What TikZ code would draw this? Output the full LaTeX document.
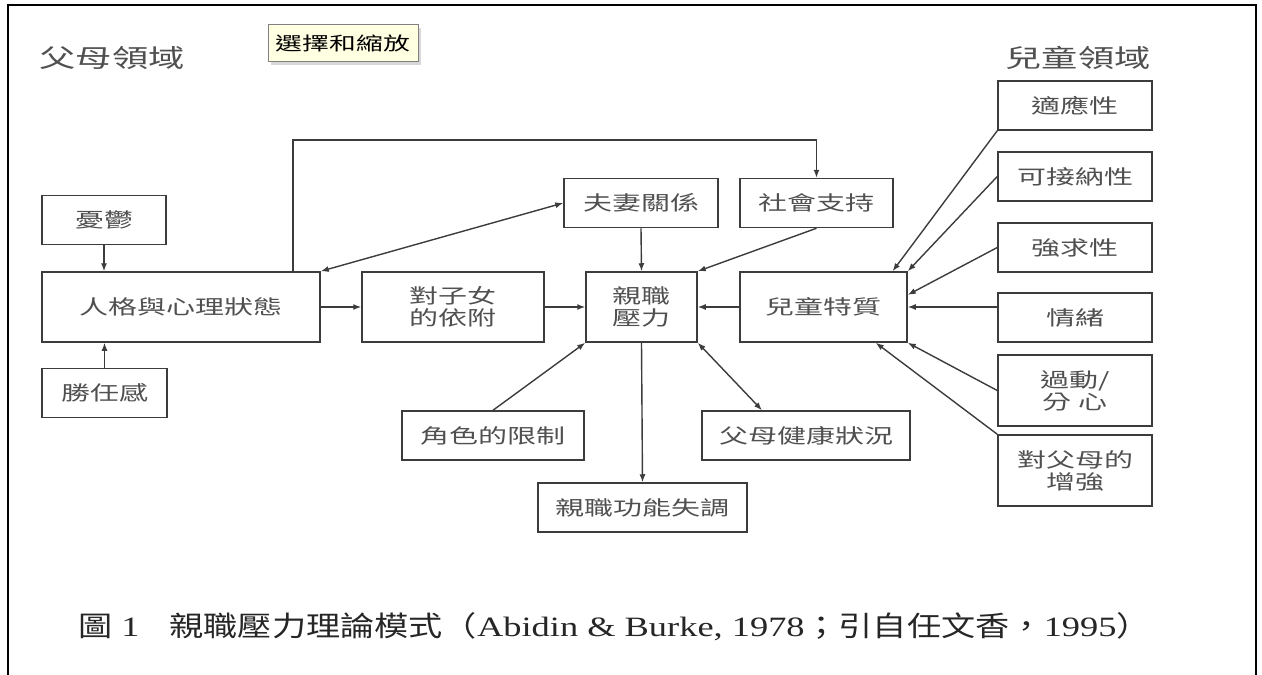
\documentclass[tikz,border=0pt]{standalone}
\usepackage{fontspec}
\setmainfont{Liberation Serif}[FakeStretch=1.3]
\newfontfamily\cjk{Noto Sans CJK TC}[FakeStretch=1.45]
\newfontfamily\capcjk{Noto Sans CJK TC}[FakeStretch=1.22]
\usetikzlibrary{arrows.meta,calc,shadows}
\definecolor{boxline}{HTML}{3C3C3C}
\definecolor{labeltext}{HTML}{505050}
\definecolor{tipfill}{HTML}{FFFFE1}

\begin{document}
\begin{tikzpicture}[x=1pt,y=-1pt]
\useasboundingbox (0,0) rectangle (1262,675);
\draw[line width=2pt] (8,675) -- (8,5) -- (1256,5) -- (1256,675);

\node[draw=gray,fill=tipfill,inner sep=0pt,minimum width=150pt,minimum height=37pt,
      drop shadow={shadow xshift=3pt,shadow yshift=-3pt,fill=gray!60},
      font=\cjk\fontsize{18.5}{20}\selectfont] (zoomtip) at (343,43) {選擇和縮放};
\node[text=labeltext,font=\cjk\fontsize{25}{28}\selectfont] (parenthead) at (112,58) {父母領域};
\node[text=labeltext,font=\cjk\fontsize{25}{28}\selectfont] (childhead) at (1078,58) {兒童領域};

\begin{scope}[every node/.style={draw=boxline,line width=1.5pt,inner sep=0pt,align=center,
              text=labeltext,font=\cjk\fontsize{20}{22}\selectfont,minimum height=49pt}]
    \node[minimum width=124pt] (depress) at (104,220) {憂鬱};
    \node[minimum width=278pt,minimum height=70pt] (persona) at (181,307) {人格與心理狀態};
    \node[minimum width=125pt] (compet) at (104.5,393) {勝任感};
    \node[minimum width=182pt,minimum height=70pt] (attach) at (453,307) {對子女\\的依附};
    \node[minimum width=111pt,minimum height=70pt] (stress) at (641.5,307) {親職\\壓力};
    \node[minimum width=154pt] (marriage) at (641,203) {夫妻關係};
    \node[minimum width=153pt] (social) at (816.5,203) {社會支持};
    \node[minimum width=167pt,minimum height=70pt] (childtrait) at (823.5,307) {兒童特質};
    \node[minimum width=182pt] (role) at (493,435.5) {角色的限制};
    \node[minimum width=208pt] (health) at (806,435.5) {父母健康狀況};
    \node[minimum width=209pt] (dysfunc) at (642.5,507.5) {親職功能失調};

    \node[minimum width=154pt] (adapt) at (1075,105.5) {適應性};
    \node[minimum width=154pt] (accept) at (1075,176.5) {可接納性};
    \node[minimum width=154pt] (demand) at (1075,247.5) {強求性};
    \node[minimum width=154pt] (mood) at (1075,317.5) {情緒};
    \node[minimum width=154pt,minimum height=71pt] (hyper) at (1075,390.5) {過動/\\分\ 心};
    \node[minimum width=154pt,minimum height=71pt] (reinforce) at (1075,470.5) {對父母的\\增強};
\end{scope}

\coordinate (loopturn) at (293,140);

\begin{scope}[>={Latex[length=8pt,width=6pt]},
              every edge/.style={draw=boxline,line width=1.4pt}]
    \path [->] (depress.south) edge (depress.south |- persona.north);
    \path [->] (compet.north) edge (compet.north |- persona.south);
    \path [->] (persona.east) edge (attach.west);
    \path [->] (attach.east) edge (stress.west);
    \path [->] (childtrait.west) edge (stress.east);
    \path [->] (marriage.south) edge (stress.north);
    \path [->] (social.south) edge (stress.north east);
    \path [<->] (marriage.west) edge (persona.north east);
    \path [->] (role.north) edge (stress.south west);
    \path [->] (stress.south) edge (dysfunc.north);
    \path [<->] (stress.south east) edge ($(health.north west)!0.29!(health.north east)$);

    \path [->] (adapt.south west) edge ($(childtrait.north west)!0.91!(childtrait.north east)$);
    \path [->] (accept.west) edge (childtrait.north east);
    \path [->] (demand.west) edge ($(childtrait.north east)!0.33!(childtrait.south east)$);
    \path [->] (mood.west |- childtrait.east) edge (childtrait.east);
    \path [->] (hyper.west) edge (childtrait.south east);
    \path [->] (reinforce.north west) edge ($(childtrait.south west)!0.81!(childtrait.south east)$);

    \draw [->,draw=boxline,line width=1.4pt] (persona.north -| loopturn) -- (loopturn) -| (social.north);
\end{scope}

\node[anchor=west,inner sep=0pt,text=black!85,font=\fontsize{28}{30}\selectfont] (caption) at (78,627)
    {{\capcjk 圖}\ 1\hspace{30pt}{\capcjk 親職壓力理論模式（}Abidin \& Burke, 1978{\capcjk ；引自任文香，}1995{\capcjk ）}};
\end{tikzpicture}
\end{document}
